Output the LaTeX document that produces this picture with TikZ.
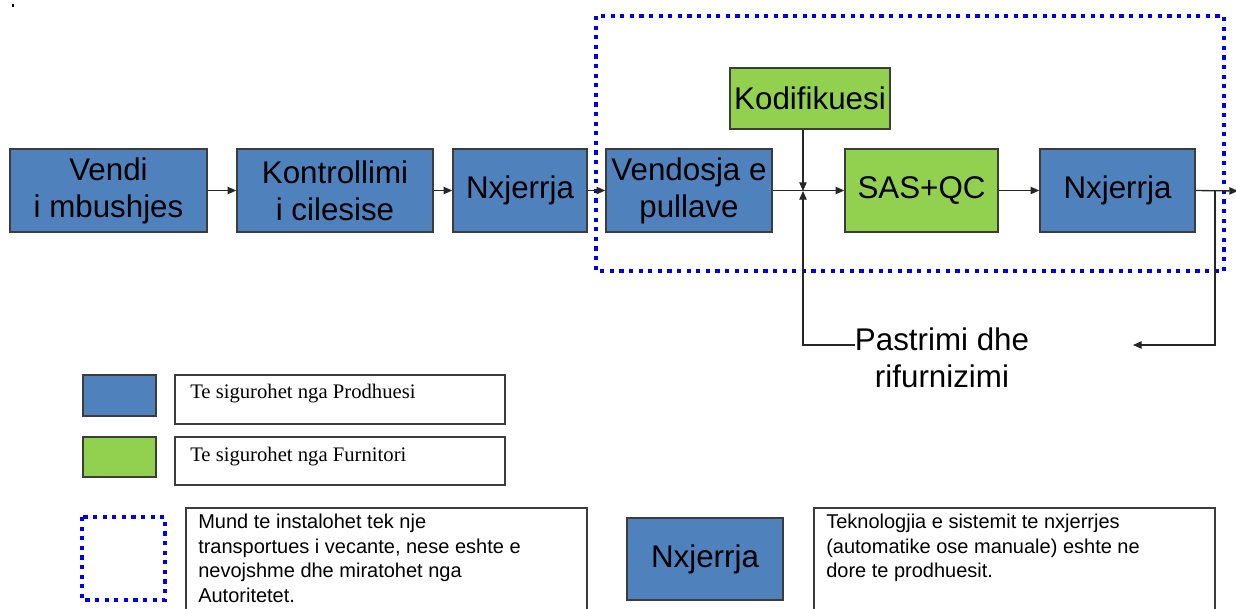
\documentclass[tikz,border=0pt]{standalone}
\usepackage{fontspec}
\setmainfont{Liberation Sans}
\newfontfamily\legserif{Liberation Serif}
\usetikzlibrary{arrows.meta}
\def\pxu{0.75pt}
\definecolor{cblue}{HTML}{4F81BD}
\definecolor{cgreen}{HTML}{92D050}
\definecolor{cborder}{HTML}{3C3C3C}
\definecolor{cdot}{HTML}{0000F0}
\tikzset{
  stepbox/.style={draw=cborder, line width=1.1pt, inner sep=0pt, align=center,
    font=\fontsize{23.5}{27.75}\selectfont},
  bluebox/.style={stepbox, fill=cblue},
  greenbox/.style={stepbox, fill=cgreen},
  conn/.style={line width=1pt, draw=black!85},
  arr/.style={conn, -{Triangle[length=6.5pt,width=5.5pt]}},
  dotframe/.style={draw=cdot, line width=3.2pt, dash pattern=on 3.2pt off 4pt},
  whitebox/.style={draw=cborder, line width=1pt, fill=white},
  legtext/.style={anchor=north west, inner sep=0pt, align=left,
    font=\fontsize{15}{18.4}\selectfont},
}
\begin{document}
\begin{tikzpicture}[x=0.75pt,y=-0.75pt]
\useasboundingbox (0,0) rectangle (1236,608);
\fill[black] (11.5,4) rectangle (14,6.5);

% dotted frame
\draw[dotframe] (596,16) rectangle (1224,271);

% main row
\node[bluebox, minimum width=197*\pxu, minimum height=83*\pxu] (v1) at (108.5,190.5) {Vendi\\i mbushjes};
\node[bluebox, minimum width=196*\pxu, minimum height=83*\pxu] (v2) at (335,190.5) {Kontrollimi\\i cilesise};
\node[bluebox, minimum width=134*\pxu, minimum height=83*\pxu] (n1) at (520,190.5) {Nxjerrja};
\node[bluebox, minimum width=166*\pxu, minimum height=83*\pxu] (v3) at (689,190.5) {Vendosja e\\pullave};
\node[greenbox, minimum width=160*\pxu, minimum height=61*\pxu] (kod) at (810,98.5) {Kodifikuesi};
\node[greenbox, minimum width=153*\pxu, minimum height=83*\pxu] (sas) at (921.5,190.5) {SAS+QC};
\node[bluebox, minimum width=155*\pxu, minimum height=83*\pxu] (n2) at (1117.5,190.5) {Nxjerrja};

\node[inner sep=0pt, align=center, font=\fontsize{23.5}{27.75}\selectfont] (pas) at (942,358) {Pastrimi dhe\\rifurnizimi};

\coordinate (jn) at (803,191);
\coordinate (jb) at (803,345);
\coordinate (pw) at (855,345);
\coordinate (br) at (1215,191);
\coordinate (bb) at (1215,345);
\coordinate (bl) at (1133,345);
\coordinate (out) at (1238,191);

\draw[arr] (v1.east) -- (v2.west);
\draw[arr] (v2.east) -- (n1.west);
\draw[arr] (n1.east) -- (v3.west);
\draw[arr] (v3.east) -- (sas.west);
\draw[arr] (kod.south -| jn) -- (jn);
\draw[arr] (pw) -- (jb) -- (jn);
\draw[arr] (sas.east) -- (n2.west);
\draw[arr] (n2.east) -- (out);
\draw[arr] (br) -- (bb) -- (bl);

% legend
\node[bluebox, minimum width=73*\pxu, minimum height=41*\pxu] (lb) at (119.5,395.5) {};
\node[whitebox, minimum width=330*\pxu, minimum height=49*\pxu, inner sep=0pt] (lbt) at (340,399.5) {};
\node[anchor=west, inner sep=0pt, font=\legserif\fontsize{15.5}{18}\selectfont] (lbtx) at (190,394) {Te sigurohet nga Prodhuesi};

\node[greenbox, minimum width=73*\pxu, minimum height=40*\pxu] (lg) at (119.5,457) {};
\node[whitebox, minimum width=330*\pxu, minimum height=48*\pxu, inner sep=0pt] (lgt) at (340,461) {};
\node[anchor=west, inner sep=0pt, font=\legserif\fontsize{15.5}{18}\selectfont] (lgtx) at (190,457) {Te sigurohet nga Furnitori};

\draw[dotframe] (82,517) rectangle (165,600);
\draw[whitebox] (186,508) rectangle (587,615);
\node[legtext] (t1) at (198,514) {Mund te instalohet tek nje\\transportues i vecante, nese eshte e\\nevojshme dhe miratohet nga\\Autoritetet.};

\node[bluebox, minimum width=156*\pxu, minimum height=82*\pxu] (ln) at (705,559) {Nxjerrja};
\draw[whitebox] (814,508) rectangle (1215,615);
\node[legtext] (t2) at (826,514) {Teknologjia e sistemit te nxjerrjes\\(automatike ose manuale) eshte ne\\dore te prodhuesit.};
\end{tikzpicture}
\end{document}
